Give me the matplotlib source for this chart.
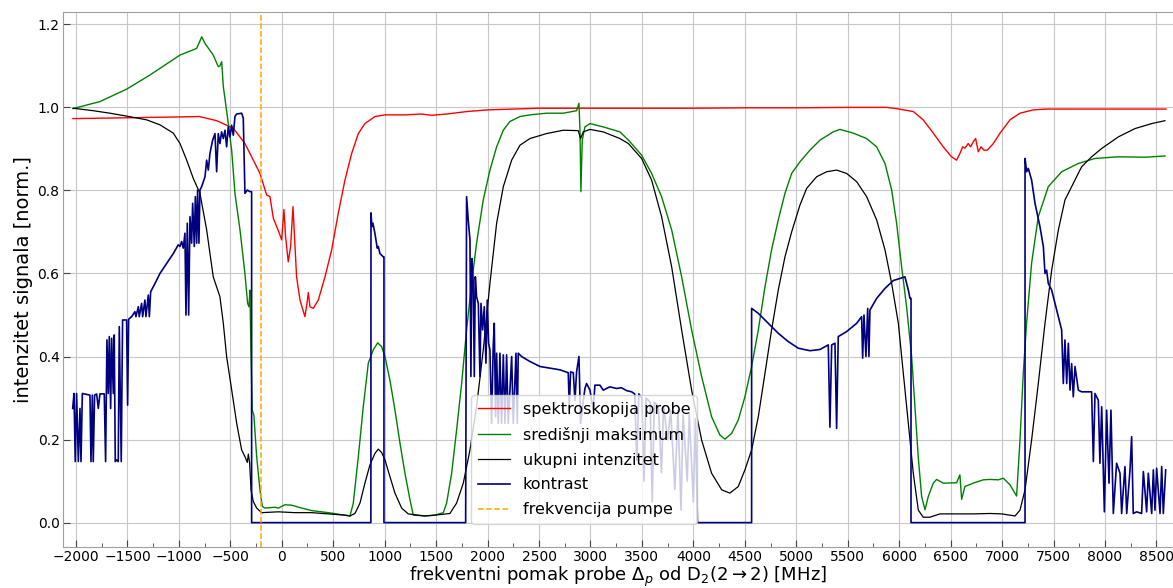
import matplotlib
matplotlib.use("Agg")
import matplotlib.pyplot as plt
from matplotlib.ticker import MultipleLocator

# ---------------- data ----------------
pump_freq = -200

red_x = [-2030, -1500, -1000, -800, -633, -471, -358, -293, -212, -147, -115, -82, -50, -24, -1,
         21, 37, 63, 86, 109, 122, 144, 177, 225, 245, 258, 274, 306, 355, 420, 484, 549, 614,
         679, 744, 808, 906, 1003, 1197, 1359, 1456, 1600, 1800, 2000, 2500, 3000, 3500, 4000,
         4500, 5000, 5500, 5878, 5975, 6137, 6234, 6331, 6428, 6509, 6558, 6590, 6617, 6639,
         6671, 6694, 6720, 6743, 6769, 6795, 6824, 6857, 6915, 6980, 7077, 7174, 7303, 7433,
         8000, 8592]
red_y = [0.973, 0.975, 0.977, 0.978, 0.968, 0.950, 0.913, 0.881, 0.841, 0.789, 0.785, 0.733,
         0.713, 0.697, 0.681, 0.754, 0.689, 0.628, 0.665, 0.761, 0.697, 0.592, 0.536, 0.496,
         0.528, 0.554, 0.520, 0.516, 0.536, 0.592, 0.656, 0.745, 0.825, 0.889, 0.937, 0.961,
         0.978, 0.982, 0.982, 0.984, 0.981, 0.984, 0.990, 0.994, 0.998, 0.998, 0.998, 0.998,
         0.999, 0.999, 1.000, 1.000, 0.997, 0.990, 0.970, 0.938, 0.905, 0.881, 0.873, 0.889,
         0.905, 0.902, 0.913, 0.905, 0.917, 0.925, 0.893, 0.905, 0.897, 0.897, 0.913, 0.938,
         0.970, 0.986, 0.994, 0.996, 0.996, 0.996]

green_x = [-2030, -1767, -1507, -1281, -989, -827, -778, -746, -666, -617, -601, -584, -568,
           -520, -487, -455, -406, -358, -332, -319, -309, -300, -287, -271, -244, -212, -189,
           -164, -66, -34, 31, 96, 193, 290, 452, 582, 663, 695, 744, 792, 841, 889, 932, 970,
           1003, 1051, 1100, 1149, 1197, 1246, 1278, 1392, 1489, 1570, 1602, 1651, 1699, 1748,
           1796, 1845, 1893, 1958, 2023, 2088, 2153, 2217, 2315, 2412, 2574, 2736, 2865, 2888,
           2898, 2907, 2920, 2946, 2995, 3124, 3286, 3370, 3497, 3594, 3691, 3789, 3886, 3983,
           4080, 4177, 4258, 4307, 4372, 4436, 4501, 4566, 4631, 4696, 4760, 4825, 4890, 4955,
           5036, 5133, 5230, 5359, 5424, 5554, 5683, 5781, 5862, 5927, 5975, 6024, 6072, 6121,
           6153, 6185, 6218, 6251, 6283, 6331, 6364, 6428, 6558, 6590, 6607, 6639, 6720, 6817,
           6882, 6963, 7012, 7077, 7141, 7174, 7206, 7238, 7287, 7352, 7449, 7579, 7741, 7903,
           8129, 8389, 8583]
green_y = [0.997, 1.014, 1.044, 1.078, 1.126, 1.142, 1.170, 1.154, 1.126, 1.098, 1.100, 1.110,
           1.050, 0.962, 0.897, 0.793, 0.705, 0.600, 0.528, 0.520, 0.560, 0.416, 0.271, 0.259,
           0.159, 0.079, 0.039, 0.035, 0.037, 0.035, 0.043, 0.042, 0.035, 0.029, 0.024, 0.019,
           0.016, 0.047, 0.159, 0.279, 0.384, 0.416, 0.433, 0.424, 0.400, 0.343, 0.271, 0.191,
           0.119, 0.055, 0.018, 0.016, 0.018, 0.024, 0.047, 0.119, 0.223, 0.335, 0.464, 0.576,
           0.673, 0.777, 0.849, 0.905, 0.945, 0.966, 0.978, 0.982, 0.986, 0.986, 0.992, 1.010,
           0.945, 0.797, 0.921, 0.953, 0.961, 0.953, 0.941, 0.921, 0.885, 0.841, 0.785, 0.705,
           0.592, 0.464, 0.352, 0.255, 0.211, 0.201, 0.215, 0.247, 0.303, 0.376, 0.464, 0.568,
           0.657, 0.729, 0.793, 0.841, 0.869, 0.897, 0.921, 0.941, 0.947, 0.938, 0.925, 0.905,
           0.865, 0.801, 0.721, 0.616, 0.520, 0.400, 0.279, 0.159, 0.063, 0.031, 0.063, 0.095,
           0.104, 0.095, 0.096, 0.115, 0.056, 0.087, 0.095, 0.103, 0.104, 0.103, 0.107, 0.091,
           0.064, 0.199, 0.360, 0.480, 0.625, 0.737, 0.809, 0.845, 0.865, 0.877, 0.881, 0.880,
           0.883]

black_x = [-2026, -1832, -1670, -1507, -1313, -1184, -1054, -989, -924, -860, -795, -730, -666,
           -601, -568, -536, -487, -438, -390, -358, -335, -325, -312, -299, -277, -244, -196,
           -34, 128, 290, 452, 614, 663, 711, 760, 808, 857, 906, 938, 970, 1003, 1051, 1100,
           1165, 1229, 1391, 1489, 1634, 1699, 1764, 1829, 1893, 1958, 2023, 2088, 2153, 2234,
           2315, 2412, 2574, 2736, 2881, 2904, 2930, 2995, 3124, 3286, 3368, 3497, 3594, 3691,
           3789, 3886, 3983, 4080, 4177, 4275, 4355, 4436, 4501, 4566, 4631, 4696, 4760, 4825,
           4890, 4955, 5036, 5101, 5198, 5295, 5392, 5489, 5587, 5684, 5781, 5862, 5927, 5992,
           6040, 6089, 6137, 6186, 6234, 6299, 6396, 6558, 6720, 6882, 6996, 7126, 7174, 7223,
           7287, 7352, 7417, 7482, 7547, 7611, 7676, 7773, 7870, 7968, 8130, 8292, 8454, 8583]
black_y = [0.998, 0.992, 0.986, 0.979, 0.970, 0.958, 0.938, 0.913, 0.873, 0.829, 0.793, 0.705,
           0.592, 0.544, 0.480, 0.400, 0.320, 0.239, 0.175, 0.159, 0.145, 0.165, 0.143, 0.079,
           0.051, 0.035, 0.024, 0.026, 0.024, 0.024, 0.021, 0.018, 0.016, 0.022, 0.047, 0.095,
           0.139, 0.167, 0.177, 0.169, 0.151, 0.111, 0.071, 0.035, 0.021, 0.016, 0.018, 0.022,
           0.047, 0.095, 0.175, 0.279, 0.416, 0.576, 0.721, 0.809, 0.873, 0.909, 0.925, 0.937,
           0.945, 0.944, 0.925, 0.941, 0.947, 0.941, 0.925, 0.913, 0.877, 0.825, 0.737, 0.616,
           0.464, 0.319, 0.199, 0.119, 0.079, 0.071, 0.087, 0.127, 0.175, 0.255, 0.360, 0.464,
           0.560, 0.640, 0.700, 0.765, 0.805, 0.833, 0.845, 0.849, 0.841, 0.821, 0.785, 0.729,
           0.657, 0.576, 0.480, 0.360, 0.239, 0.119, 0.030, 0.013, 0.013, 0.021, 0.021, 0.021,
           0.022, 0.021, 0.016, 0.030, 0.079, 0.199, 0.335, 0.480, 0.608, 0.705, 0.777, 0.809,
           0.857, 0.881, 0.901, 0.929, 0.949, 0.961, 0.968]

blue_x = [-2032, -2019, -2007, -1994, -1977, -1961, -1951, -1938, -1864, -1854, -1841, -1832,
          -1819, -1799, -1783, -1767, -1725, -1712, -1699, -1686, -1676, -1663, -1653, -1637,
          -1628, -1618, -1605, -1589, -1579, -1560, -1547, -1524, -1508, -1498, -1488, -1459,
          -1427, -1417, -1394, -1385, -1362, -1352, -1330, -1320, -1297, -1287, -1274, -1232,
          -1184, -1119, -1054, -1006, -989, -973, -957, -941, -931, -918, -905, -892, -876,
          -866, -850, -840, -827, -818, -805, -795, -779, -746, -730, -714, -698, -672, -649,
          -633, -617, -601, -585, -568, -552, -536, -520, -504, -487, -471, -455, -439, -390,
          -374, -358, -335, -309, -293, -293,
          866, 867, 876, 886, 905, 928, 938, 954, 970, 987, 993, 993,
          1787, 1796, 1812, 1829, 1838, 1848, 1861, 1871, 1881, 1893, 1910, 1926, 1936, 1952,
          1968, 1984, 1997, 2010, 2023, 2039, 2055, 2065, 2078, 2088, 2104, 2120, 2136, 2153,
          2169, 2185, 2201, 2234, 2250, 2276, 2289, 2298, 2331, 2412, 2509, 2606, 2703, 2784,
          2794, 2807, 2833, 2849, 2865, 2888, 2904, 2923, 2946, 2962, 2995, 3027, 3043, 3092,
          3124, 3189, 3254, 3300, 3350, 3400, 3430, 3450, 3470, 3500, 3520, 3540, 3580, 3600,
          3620, 3660, 3690, 3710, 3750, 3780, 3820, 3850, 3880, 3900, 3940, 3960, 4000, 4020,
          4040,
          4566, 4566, 4631, 4728, 4825, 4922, 5020, 5133, 5230, 5311, 5327, 5344, 5376, 5392,
          5408, 5489, 5587, 5635, 5645, 5658, 5677, 5694, 5706, 5716, 5781, 5862, 5943, 6008,
          6056, 6072, 6089, 6105, 6115, 6115,
          7223, 7223, 7239, 7255, 7287, 7320, 7368, 7401, 7417, 7433, 7449, 7482, 7514, 7547,
          7579, 7595, 7611, 7628, 7644, 7660, 7676, 7692, 7709, 7741, 7773, 7870, 7887, 7903,
          7935, 7951, 7968, 7994, 8016, 8039, 8058, 8081, 8113, 8146, 8162, 8194, 8211, 8243,
          8259, 8275, 8308, 8356, 8373, 8405, 8421, 8454, 8470, 8486, 8502, 8535, 8551, 8567,
          8590]
blue_y = [0.275, 0.311, 0.147, 0.311, 0.147, 0.275, 0.147, 0.311, 0.307, 0.147, 0.307, 0.147,
          0.307, 0.310, 0.275, 0.310, 0.310, 0.147, 0.440, 0.311, 0.448, 0.275, 0.444, 0.311,
          0.452, 0.147, 0.151, 0.147, 0.472, 0.147, 0.488, 0.488, 0.488, 0.283, 0.490, 0.496,
          0.508, 0.496, 0.520, 0.496, 0.528, 0.496, 0.536, 0.496, 0.548, 0.496, 0.556, 0.576,
          0.600, 0.624, 0.648, 0.669, 0.665, 0.677, 0.661, 0.697, 0.500, 0.721, 0.500, 0.737,
          0.673, 0.769, 0.665, 0.785, 0.673, 0.801, 0.673, 0.801, 0.809, 0.833, 0.873, 0.849,
          0.889, 0.921, 0.937, 0.845, 0.937, 0.913, 0.941, 0.925, 0.945, 0.905, 0.953, 0.929,
          0.957, 0.933, 0.978, 0.984, 0.986, 0.974, 0.793, 0.801, 0.797, 0.797, 0.0,
          0.0, 0.746, 0.713, 0.721, 0.697, 0.661, 0.665, 0.648, 0.644, 0.640, 0.640, 0.0,
          0.0, 0.785, 0.729, 0.681, 0.352, 0.636, 0.576, 0.352, 0.592, 0.544, 0.528, 0.352,
          0.528, 0.464, 0.520, 0.384, 0.536, 0.432, 0.416, 0.239, 0.424, 0.480, 0.255, 0.408,
          0.239, 0.408, 0.239, 0.404, 0.239, 0.404, 0.239, 0.400, 0.239, 0.408, 0.239, 0.408,
          0.400, 0.388, 0.376, 0.372, 0.368, 0.361, 0.279, 0.363, 0.361, 0.294, 0.363, 0.400,
          0.239, 0.279, 0.323, 0.335, 0.319, 0.271, 0.331, 0.331, 0.319, 0.327, 0.323, 0.325,
          0.318, 0.315, 0.310, 0.150, 0.310, 0.300, 0.100, 0.300, 0.290, 0.050, 0.290, 0.280,
          0.120, 0.280, 0.200, 0.270, 0.080, 0.270, 0.030, 0.260, 0.100, 0.260, 0.050, 0.250,
          0.0,
          0.0, 0.516, 0.504, 0.480, 0.456, 0.436, 0.420, 0.414, 0.417, 0.428, 0.230, 0.428,
          0.432, 0.227, 0.448, 0.460, 0.480, 0.496, 0.396, 0.500, 0.400, 0.516, 0.400, 0.512,
          0.540, 0.564, 0.583, 0.588, 0.592, 0.576, 0.560, 0.540, 0.540, 0.0,
          0.0, 0.877, 0.845, 0.853, 0.825, 0.769, 0.713, 0.665, 0.600, 0.608, 0.576, 0.560,
          0.528, 0.496, 0.464, 0.335, 0.440, 0.335, 0.432, 0.319, 0.383, 0.303, 0.376, 0.319,
          0.315, 0.315, 0.147, 0.311, 0.295, 0.143, 0.279, 0.026, 0.271, 0.095, 0.271, 0.022,
          0.143, 0.119, 0.022, 0.135, 0.022, 0.127, 0.207, 0.022, 0.026, 0.022, 0.123, 0.026,
          0.119, 0.022, 0.127, 0.030, 0.131, 0.022, 0.135, 0.022, 0.127]

labels = ["spektroskopija probe", "središnji maksimum", "ukupni intenzitet",
          "kontrast", "frekvencija pumpe"]
x_label = r"frekventni pomak probe $\Delta_p$ od D$_2$(2$\rightarrow$2) [MHz]"
y_label = "intenzitet signala [norm.]"

# ---------------- figure ----------------
fig = plt.figure(figsize=(11.73, 5.88), dpi=100)
ax = fig.add_axes([63 / 1173, 41.3 / 588, 1110 / 1173, 534.4 / 588])

ax.plot(red_x, red_y, color="red", lw=1.0, label=labels[0])
ax.plot(green_x, green_y, color="green", lw=1.0, label=labels[1])
ax.plot(black_x, black_y, color="black", lw=0.9, label=labels[2])
ax.plot(blue_x, blue_y, color="navy", lw=1.2, label=labels[3])
ax.axvline(pump_freq, color="orange", ls="--", lw=1.1, label=labels[4])

ax.set_xlim(-2126, 8661)
ax.set_ylim(-0.058, 1.229)
ax.xaxis.set_major_locator(MultipleLocator(500))
ax.xaxis.set_minor_locator(MultipleLocator(250))
ax.yaxis.set_major_locator(MultipleLocator(0.2))

ax.grid(True, which="major", color="#c8c8c8", lw=0.8)
ax.tick_params(which="both", direction="in", colors="#444444", labelcolor="black",
               labelsize=10, pad=2.5, top=False, right=False)
ax.tick_params(which="major", length=5)
ax.tick_params(which="minor", length=3)
for s in ["left", "bottom", "top"]:
    ax.spines[s].set_color("#a0a0a0")
ax.spines["right"].set_visible(False)

ax.set_xlabel(x_label, fontsize=13, labelpad=0.5)
ax.set_ylabel(y_label, fontsize=14, labelpad=3)

ax.legend(loc="lower left", bbox_to_anchor=(0.368, 0.043), borderaxespad=0,
          fontsize=11.5, framealpha=0.8, labelspacing=0.62)

fig.savefig("out.png", dpi=100)
